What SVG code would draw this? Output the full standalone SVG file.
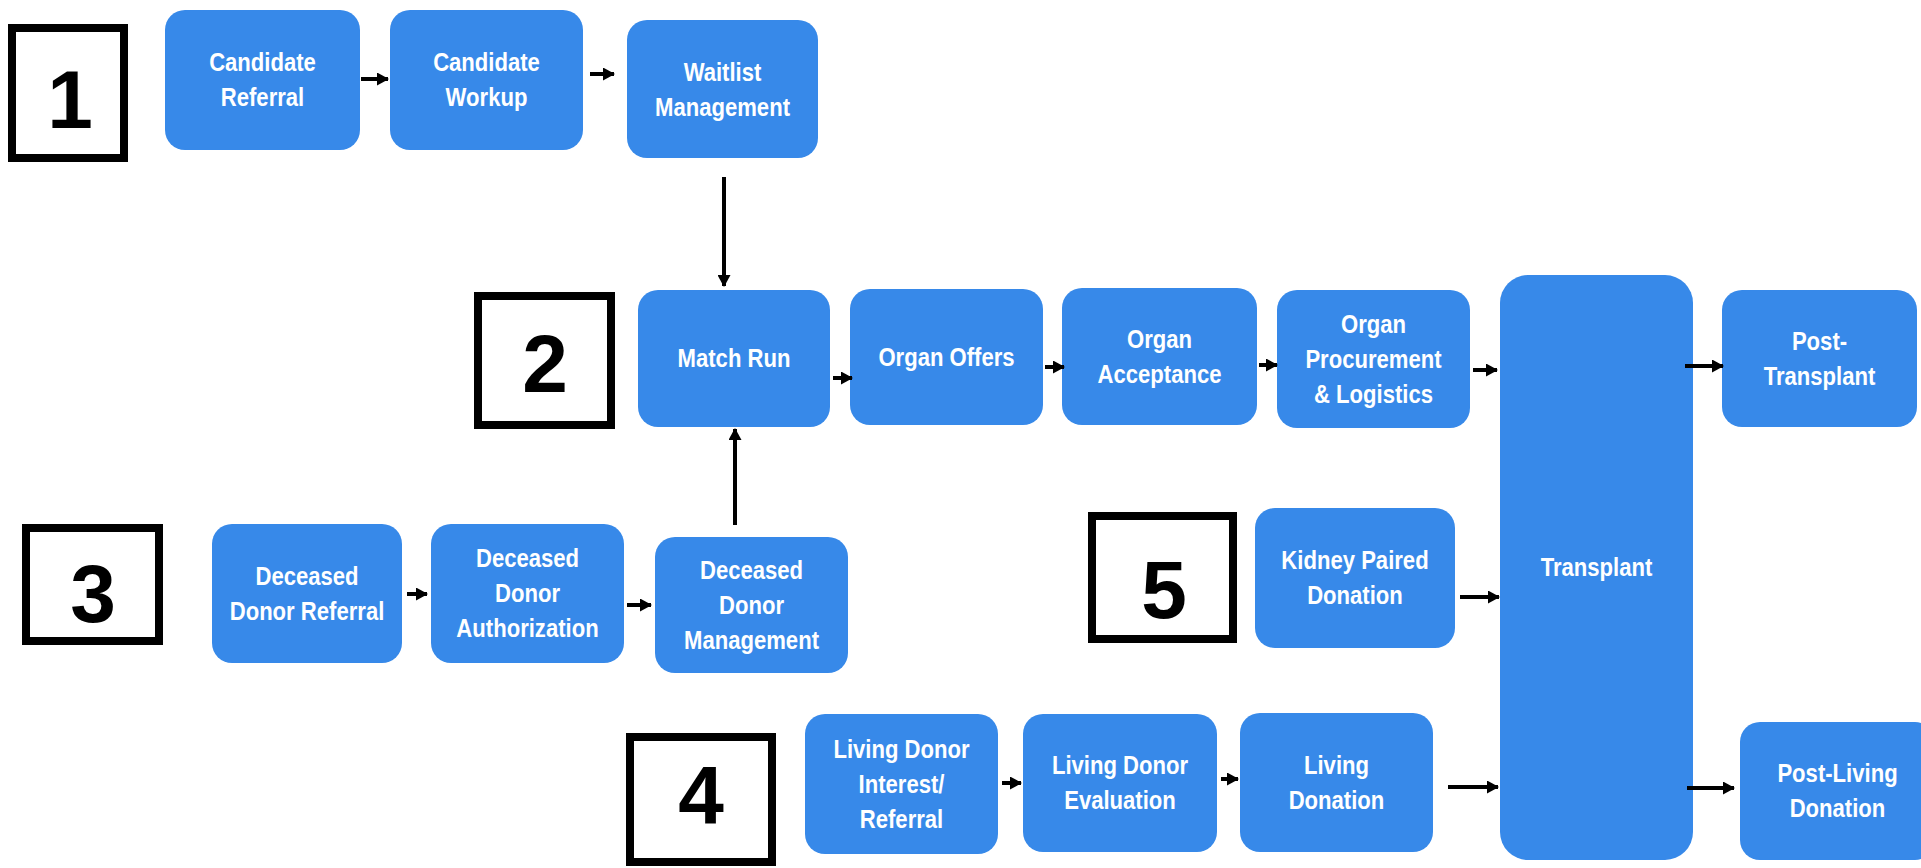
<svg xmlns="http://www.w3.org/2000/svg" width="1921" height="868" viewBox="0 0 1921 868">
<style>
.node rect{fill:#3789E9;}
.node text{fill:#ffffff;font-family:"Liberation Sans",Arial,sans-serif;font-weight:bold;font-size:26px;text-anchor:middle;}
.tag rect{fill:#ffffff;stroke:#000000;stroke-width:8;}
.tag text{fill:#000000;font-family:"Liberation Sans",Arial,sans-serif;font-weight:bold;font-size:82px;text-anchor:middle;}
.conn line{stroke:#000000;stroke-width:4;marker-end:url(#ah);}
</style>
<defs>
<marker id="ah" markerUnits="userSpaceOnUse" markerWidth="12" markerHeight="13" refX="11" refY="6.5" orient="auto" viewBox="0 0 12 13">
<path d="M0,0 L12,6.5 L0,13 z" fill="#000000"/>
</marker>
</defs>
<rect width="1921" height="868" fill="#ffffff"/>

<g id="tag1" class="tag"><rect x="12" y="28" width="112" height="130"/><text x="70" y="128">1</text></g>
<g id="tag2" class="tag"><rect x="478" y="296" width="133" height="129"/><text x="545" y="392">2</text></g>
<g id="tag3" class="tag"><rect x="26" y="528" width="133" height="113"/><text x="93" y="622">3</text></g>
<g id="tag4" class="tag"><rect x="630" y="737" width="142" height="125"/><text x="701" y="823">4</text></g>
<g id="tag5" class="tag"><rect x="1092" y="516" width="141" height="123"/><text x="1164" y="618">5</text></g>

<g id="candidate-referral" class="node"><rect x="165" y="10" width="195" height="140" rx="20"/><text transform="translate(262.5 0) scale(0.85 1)"><tspan x="0" y="71.5">Candidate</tspan><tspan x="0" y="106.5">Referral</tspan></text></g>
<g id="candidate-workup" class="node"><rect x="390" y="10" width="193" height="140" rx="20"/><text transform="translate(486.5 0) scale(0.85 1)"><tspan x="0" y="71.5">Candidate</tspan><tspan x="0" y="106.5">Workup</tspan></text></g>
<g id="waitlist-management" class="node"><rect x="627" y="20" width="191" height="138" rx="20"/><text transform="translate(722.5 0) scale(0.85 1)"><tspan x="0" y="81">Waitlist</tspan><tspan x="0" y="116">Management</tspan></text></g>
<g id="match-run" class="node"><rect x="638" y="290" width="192" height="137" rx="20"/><text transform="translate(734 0) scale(0.85 1)"><tspan x="0" y="367.5">Match Run</tspan></text></g>
<g id="organ-offers" class="node"><rect x="850" y="289" width="193" height="136" rx="20"/><text transform="translate(946.5 0) scale(0.85 1)"><tspan x="0" y="366">Organ Offers</tspan></text></g>
<g id="organ-acceptance" class="node"><rect x="1062" y="288" width="195" height="137" rx="20"/><text transform="translate(1159.5 0) scale(0.85 1)"><tspan x="0" y="348">Organ</tspan><tspan x="0" y="383">Acceptance</tspan></text></g>
<g id="organ-procurement" class="node"><rect x="1277" y="290" width="193" height="138" rx="20"/><text transform="translate(1373.5 0) scale(0.85 1)"><tspan x="0" y="333">Organ</tspan><tspan x="0" y="368">Procurement</tspan><tspan x="0" y="403">&amp; Logistics</tspan></text></g>
<g id="transplant" class="node"><rect x="1500" y="275" width="193" height="585" rx="28"/><text transform="translate(1596.5 0) scale(0.85 1)"><tspan x="0" y="576">Transplant</tspan></text></g>
<g id="post-transplant" class="node"><rect x="1722" y="290" width="195" height="137" rx="20"/><text transform="translate(1819.5 0) scale(0.85 1)"><tspan x="0" y="350">Post-</tspan><tspan x="0" y="385">Transplant</tspan></text></g>
<g id="deceased-donor-referral" class="node"><rect x="212" y="524" width="190" height="139" rx="20"/><text transform="translate(307 0) scale(0.85 1)"><tspan x="0" y="585">Deceased</tspan><tspan x="0" y="620">Donor Referral</tspan></text></g>
<g id="deceased-donor-authorization" class="node"><rect x="431" y="524" width="193" height="139" rx="20"/><text transform="translate(527.5 0) scale(0.85 1)"><tspan x="0" y="567.5">Deceased</tspan><tspan x="0" y="602.5">Donor</tspan><tspan x="0" y="637.5">Authorization</tspan></text></g>
<g id="deceased-donor-management" class="node"><rect x="655" y="537" width="193" height="136" rx="20"/><text transform="translate(751.5 0) scale(0.85 1)"><tspan x="0" y="579">Deceased</tspan><tspan x="0" y="614">Donor</tspan><tspan x="0" y="649">Management</tspan></text></g>
<g id="kidney-paired-donation" class="node"><rect x="1255" y="508" width="200" height="140" rx="20"/><text transform="translate(1355 0) scale(0.85 1)"><tspan x="0" y="569.5">Kidney Paired</tspan><tspan x="0" y="604.5">Donation</tspan></text></g>
<g id="living-donor-interest" class="node"><rect x="805" y="714" width="193" height="140" rx="20"/><text transform="translate(901.5 0) scale(0.85 1)"><tspan x="0" y="758">Living Donor</tspan><tspan x="0" y="793">Interest/</tspan><tspan x="0" y="828">Referral</tspan></text></g>
<g id="living-donor-evaluation" class="node"><rect x="1023" y="714" width="194" height="138" rx="20"/><text transform="translate(1120 0) scale(0.85 1)"><tspan x="0" y="774.5">Living Donor</tspan><tspan x="0" y="809.5">Evaluation</tspan></text></g>
<g id="living-donation" class="node"><rect x="1240" y="713" width="193" height="139" rx="20"/><text transform="translate(1336.5 0) scale(0.85 1)"><tspan x="0" y="774">Living</tspan><tspan x="0" y="809">Donation</tspan></text></g>
<g id="post-living-donation" class="node"><rect x="1740" y="722" width="195" height="138" rx="20"/><text transform="translate(1837.5 0) scale(0.85 1)"><tspan x="0" y="782.5">Post-Living</tspan><tspan x="0" y="817.5">Donation</tspan></text></g>

<g id="connectors" class="conn">
<line x1="361" y1="79" x2="388" y2="79"/>
<line x1="590" y1="74" x2="614" y2="74"/>
<line x1="724" y1="177" x2="724" y2="286"/>
<line x1="735" y1="525" x2="735" y2="429"/>
<line x1="833" y1="378" x2="852" y2="378"/>
<line x1="1045" y1="367" x2="1064" y2="367"/>
<line x1="1259" y1="365" x2="1277" y2="365"/>
<line x1="1473" y1="370" x2="1497" y2="370"/>
<line x1="1685" y1="366" x2="1723" y2="366"/>
<line x1="407" y1="594" x2="427" y2="594"/>
<line x1="627" y1="605" x2="651" y2="605"/>
<line x1="1460" y1="597" x2="1499" y2="597"/>
<line x1="1002" y1="783" x2="1021" y2="783"/>
<line x1="1221" y1="779" x2="1238" y2="779"/>
<line x1="1448" y1="787" x2="1498" y2="787"/>
<line x1="1687" y1="788" x2="1734" y2="788"/>
</g>
</svg>
